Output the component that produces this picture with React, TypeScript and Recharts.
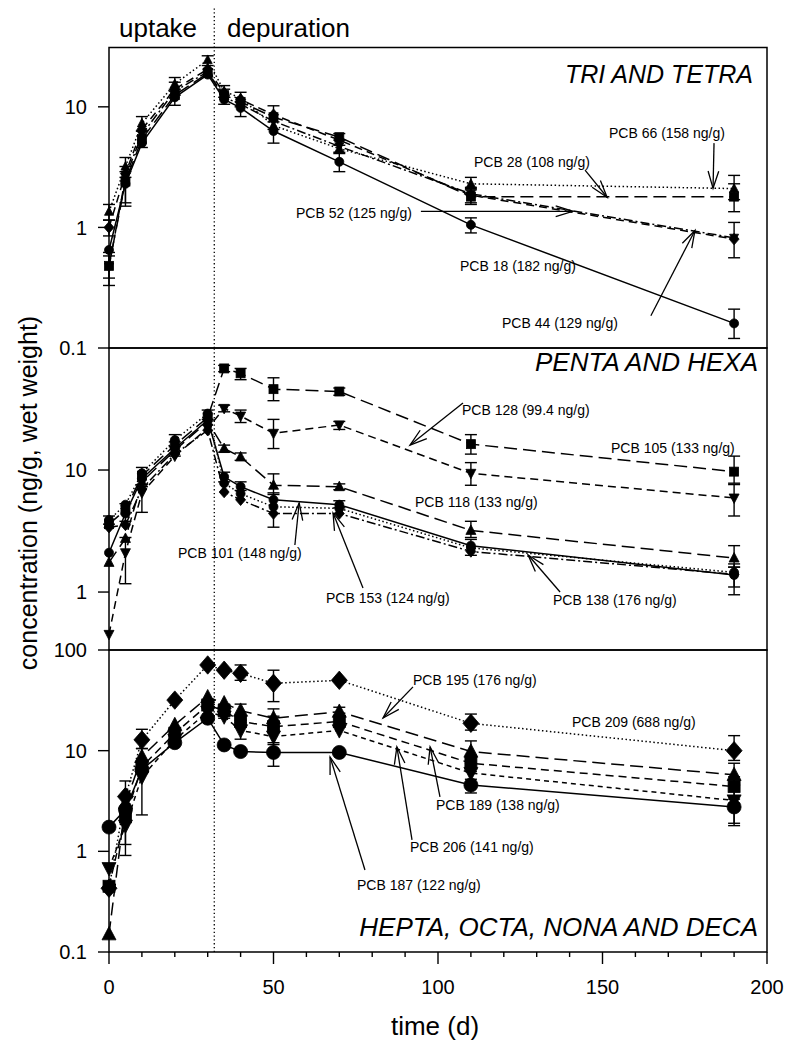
import React from "react";
import {
  LineChart,
  Line,
  XAxis,
  YAxis,
  ErrorBar,
  ReferenceLine,
  ReferenceArea,
} from "recharts";

const FONT = '"Liberation Sans", Arial, Helvetica, sans-serif';

// sampling days
const times = [0, 5, 10, 20, 30, 35, 40, 50, 70, 110, 190];
const xTicks = [0, 10, 20, 30, 40, 50, 60, 70, 80, 90, 100, 110, 120, 130, 140, 150, 160, 170, 180, 190, 200];
const phaseBreak = 32;

type Range = [number, number] | null;

// TRI AND TETRA (ng/g wet weight), error bars as [low, high]
const pcb18 = [0.65, 2.3, 5.0, 12.0, 18.5, 11.5, 9.8, 6.3, 3.5, 1.05, 0.16];
const pcb18Err: Range[] = [null, [1.6, 2.9], null, [10.3, 13.5], null, null, [8.3, 11], [5.0, 7.5], [2.9, 4.1], [0.9, 1.2], [0.12, 0.21]];
const pcb28 = [0.48, 2.4, 5.4, 12.5, 19.0, 12.5, 11.0, 8.2, 5.6, 1.8, 1.8];
const pcb28Err: Range[] = [[0.33, 0.62], [1.5, 3.2], [4.6, 6.3], null, null, [10.5, 14], null, null, null, [1.55, 2.1], [1.35, 2.3]];
const pcb44 = [0.47, 2.6, 5.9, 13.5, 19.5, 12.0, 10.5, 7.6, 4.7, 1.9, 0.82];
const pcb44Err: Range[] = [[0.38, 0.58], null, null, null, null, null, null, null, [4.2, 5.3], [1.6, 2.15], [0.56, 1.1]];
const pcb52 = [1.0, 2.8, 6.5, 14.0, 20.5, 13.0, 11.5, 8.6, 5.3, 1.85, 0.8];
const pcb52Err: Range[] = [[0.85, 1.15], null, null, [12.5, 16], null, null, [10, 13.2], [6.5, 10.2], [4.8, 6.0], null, null];
const pcb66 = [1.35, 3.2, 7.3, 15.5, 24.5, 13.5, 11.8, 7.0, 4.5, 2.3, 2.1];
const pcb66Err: Range[] = [[1.15, 1.55], [2.6, 3.8], [6.3, 8.3], [14, 17.5], [22, 26.5], [12, 15], null, null, null, [2.05, 2.6], [1.7, 2.7]];

// PENTA AND HEXA
const pcb101 = [3.9, 5.2, 9.4, 17.6, 29, 7.8, 6.4, 5.0, 4.85, 2.3, 1.45];
const pcb101Err: Range[] = [[3.6, 4.2], null, null, [15.5, 19.5], [26, 31], null, null, null, null, null, null];
const pcb105 = [3.6, 4.7, 9.0, 16.0, 27, 68, 62, 46, 44, 16.3, 9.7];
const pcb105Err: Range[] = [null, null, null, null, null, [64, 72], [55, 68], [37, 57], [41, 47], [13.5, 19.5], [7.8, 13]];
const pcb118 = [1.75, 2.75, 8.0, 14.5, 25, 15, 12.8, 7.5, 7.3, 3.2, 1.9];
const pcb118Err: Range[] = [null, null, null, null, null, [14, 16], [12, 13.8], [6.3, 9.3], [6.9, 7.7], [2.8, 3.8], [1.6, 2.4]];
const pcb128 = [0.45, 2.1, 6.5, 13, 22, 32, 27.7, 20, 23.4, 9.4, 5.9];
const pcb128Err: Range[] = [null, [1.17, 2.8], [4.5, 7.3], null, null, [30, 34], [24.5, 31], [15, 26], [21.5, 25], [7.5, 11.5], [4.2, 7.6]];
const pcb138 = [3.4, 3.55, 7.0, 13.5, 21.2, 6.6, 5.7, 4.4, 4.4, 2.15, 1.4];
const pcb138Err: Range[] = [null, null, null, null, null, null, null, null, null, null, [1.1, 1.7]];
const pcb153 = [2.1, 4.4, 8.5, 15, 25.7, 8.8, 7.3, 5.7, 5.2, 2.4, 1.38];
const pcb153Err: Range[] = [null, [3.8, 5.3], [7.6, 10.5], [13, 17], null, [8, 9.6], [6.8, 8.0], [3.4, 6.5], [4.9, 5.6], [2.0, 2.7], [0.95, 1.6]];

// HEPTA, OCTA, NONA AND DECA
const pcb187 = [1.74, 2.6, 6.5, 12, 21, 11.4, 9.8, 9.6, 9.6, 4.56, 2.76];
const pcb187Err: Range[] = [null, null, null, null, null, null, null, [7, 11.5], null, [3.8, 5.2], [1.8, 3.3]];
const pcb189 = [0.45, 2.2, 6.9, 14.9, 28.4, 25, 19.5, 17.3, 19.5, 7.5, 4.4];
const pcb189Err: Range[] = [null, [1.17, 2.8], null, null, null, [21, 29], null, [12, 22], null, [6.2, 9.0], [3.0, 5.5]];
const pcb195 = [0.15, 3.0, 8.7, 18, 34, 29.6, 25, 21, 24.4, 9.8, 5.75];
const pcb195Err: Range[] = [null, [2.4, 5.0], [7, 10.5], null, null, null, [20, 29], [16, 26], [22, 27], [8.5, 12.5], [4.6, 7.5]];
const pcb206 = [0.68, 1.8, 5.5, 12.8, 24.4, 21.8, 15.9, 13.8, 15.9, 6.0, 3.2];
const pcb206Err: Range[] = [null, [0.91, 2.4], [2.3, 8.0], null, null, null, [13, 19], [9.5, 17], null, [4.6, 7.5], [1.9, 4.5]];
const pcb209 = [0.43, 3.5, 12.8, 31.8, 71, 63, 58.6, 46.7, 50, 18.7, 10];
const pcb209Err: Range[] = [null, null, [10.5, 16.3], null, null, null, [50, 71], [30.7, 63], null, [16, 23.1], [8, 14.1]];

const DOTTED = "1.5 2.5";
const LONG = "13 6";
const MED = "8 5";
const SHORT = "5 4";
const DASHDOT = "9 3 2 3";

type Shape = "circle" | "square" | "diamond" | "up" | "down";
interface Series {
  key: string;
  values: number[];
  errors: Range[];
  dash?: string;
  shape: Shape;
  size: number;
}
interface Arrow {
  from: [number, number];
  to: [number, number];
}

const topSeries: Series[] = [
  { key: "p18", values: pcb18, errors: pcb18Err, shape: "circle", size: 9 },
  { key: "p28", values: pcb28, errors: pcb28Err, dash: LONG, shape: "square", size: 9 },
  { key: "p44", values: pcb44, errors: pcb44Err, dash: DASHDOT, shape: "down", size: 9 },
  { key: "p52", values: pcb52, errors: pcb52Err, dash: MED, shape: "diamond", size: 10 },
  { key: "p66", values: pcb66, errors: pcb66Err, dash: DOTTED, shape: "up", size: 9 },
];
const midSeries: Series[] = [
  { key: "p101", values: pcb101, errors: pcb101Err, dash: DOTTED, shape: "circle", size: 9 },
  { key: "p105", values: pcb105, errors: pcb105Err, dash: LONG, shape: "square", size: 9 },
  { key: "p118", values: pcb118, errors: pcb118Err, dash: LONG, shape: "up", size: 10 },
  { key: "p128", values: pcb128, errors: pcb128Err, dash: MED, shape: "down", size: 10 },
  { key: "p138", values: pcb138, errors: pcb138Err, dash: DASHDOT, shape: "diamond", size: 10 },
  { key: "p153", values: pcb153, errors: pcb153Err, shape: "circle", size: 9 },
];
const botSeries: Series[] = [
  { key: "p187", values: pcb187, errors: pcb187Err, shape: "circle", size: 14 },
  { key: "p189", values: pcb189, errors: pcb189Err, dash: MED, shape: "square", size: 12 },
  { key: "p195", values: pcb195, errors: pcb195Err, dash: LONG, shape: "up", size: 14 },
  { key: "p206", values: pcb206, errors: pcb206Err, dash: SHORT, shape: "down", size: 14 },
  { key: "p209", values: pcb209, errors: pcb209Err, dash: DOTTED, shape: "diamond", size: 16 },
];

// annotation arrows, tail -> tip, in data units (day, ng/g)
const topArrows: Arrow[] = [
  { from: [183.9, 5.0], to: [183.6, 2.11] },
  { from: [144.7, 2.99], to: [151.4, 1.78] },
  { from: [94.8, 1.36], to: [141, 1.36] },
  { from: [164.7, 0.185], to: [178.1, 0.944] },
];
const midArrows: Arrow[] = [
  { from: [107.6, 35.4], to: [91.5, 16.0] },
  { from: [56.5, 2.43], to: [57.8, 5.37] },
  { from: [77.2, 1.08], to: [68.1, 4.45] },
  { from: [137.1, 1.0], to: [127.4, 2.01] },
];
const botArrows: Arrow[] = [
  { from: [92.4, 43], to: [83.3, 21.1] },
  { from: [100.6, 3.47], to: [97.6, 10.9] },
  { from: [92.1, 1.3], to: [87.5, 10.9] },
  { from: [77.8, 0.653], to: [67.2, 8.65] },
];

function buildRows(series: Series[]) {
  return times.map((t, i) => {
    const row: Record<string, any> = { t };
    series.forEach((s) => {
      const v = s.values[i];
      row[s.key] = v;
      const r = s.errors[i];
      if (r) row[s.key + "_e"] = [v - r[0], r[1] - v];
    });
    return row;
  });
}

function makeDot(shape: Shape, size: number) {
  return (p: any) => {
    const { cx, cy, index } = p;
    if (cx == null || cy == null) return <g key={index} />;
    const h = size / 2;
    let el: React.ReactNode;
    if (shape === "circle") el = <circle cx={cx} cy={cy} r={h} />;
    else if (shape === "square") el = <rect x={cx - h} y={cy - h} width={size} height={size} />;
    else if (shape === "diamond")
      el = <polygon points={`${cx},${cy - h * 1.15} ${cx + h},${cy} ${cx},${cy + h * 1.15} ${cx - h},${cy}`} />;
    else if (shape === "up")
      el = <polygon points={`${cx},${cy - h * 1.1} ${cx + h},${cy + h * 0.8} ${cx - h},${cy + h * 0.8}`} />;
    else el = <polygon points={`${cx},${cy + h * 1.1} ${cx + h},${cy - h * 0.8} ${cx - h},${cy - h * 0.8}`} />;
    return (
      <g key={index} fill="#000" stroke="#000" strokeWidth={0.8}>
        {el}
      </g>
    );
  };
}

function renderArrow(p: any) {
  const { x1, y1, x2, y2 } = p;
  if ([x1, y1, x2, y2].some((v) => v == null || Number.isNaN(v))) return <g />;
  const ang = Math.atan2(y2 - y1, x2 - x1);
  const len = 18;
  const spread = 0.3;
  const ax = x2 - len * Math.cos(ang - spread);
  const ay = y2 - len * Math.sin(ang - spread);
  const bx = x2 - len * Math.cos(ang + spread);
  const by = y2 - len * Math.sin(ang + spread);
  return (
    <g stroke="#000" strokeWidth={1.3} fill="none">
      <line x1={x1} y1={y1} x2={x2} y2={y2} />
      <path d={`M${ax},${ay} L${x2},${y2} L${bx},${by}`} />
    </g>
  );
}

function XTick(p: any) {
  const { x, y, payload } = p;
  const v = payload.value;
  const major = v % 50 === 0;
  return (
    <g>
      <line x1={x} x2={x} y1={y} y2={y + (major ? 12 : 5)} stroke="#000" strokeWidth={1.4} />
      {major && (
        <text x={x} y={y + 42} textAnchor="middle" fontSize={20} fontFamily={FONT} fill="#000">
          {v}
        </text>
      )}
    </g>
  );
}

interface PanelProps {
  top: number;
  height: number;
  marginTop: number;
  marginBottom: number;
  domain: [number, number];
  frameTop: number;
  yTicks: number[];
  series: Series[];
  arrows: Arrow[];
  showX?: boolean;
}

function Panel({ top, height, marginTop, marginBottom, domain, frameTop, yTicks, series, arrows, showX }: PanelProps) {
  const rows = buildRows(series);
  return (
    <div style={{ position: "absolute", left: 0, top }}>
      <LineChart width={786} height={height} data={rows} margin={{ top: marginTop, right: 19, bottom: marginBottom, left: 0 }}>
        <XAxis
          type="number"
          dataKey="t"
          domain={[0, 200]}
          ticks={xTicks}
          interval={0}
          hide={!showX}
          height={50}
          axisLine={false}
          tickLine={false}
          tickSize={0}
          tickMargin={0}
          tick={<XTick />}
        />
        <YAxis
          type="number"
          scale="log"
          domain={domain}
          allowDataOverflow
          ticks={yTicks}
          interval={0}
          width={109}
          axisLine={false}
          tickSize={11}
          tickMargin={11}
          tickLine={{ stroke: "#000", strokeWidth: 1.4 }}
          tick={{ fill: "#000", fontSize: 20, fontFamily: FONT }}
        />
        <ReferenceArea x1={0} x2={200} y1={domain[0]} y2={frameTop} fill="none" stroke="#000" strokeWidth={1.5} ifOverflow="visible" />
        <ReferenceLine x={phaseBreak} stroke="#000" strokeWidth={1.3} strokeDasharray="1.3 2.5" />
        {series.map((s) => (
          <Line
            key={s.key}
            dataKey={s.key}
            type="linear"
            stroke="#000"
            strokeWidth={1.5}
            strokeDasharray={s.dash}
            dot={makeDot(s.shape, s.size)}
            activeDot={false}
            isAnimationActive={false}
          >
            <ErrorBar dataKey={s.key + "_e"} direction="y" width={6} stroke="#000" strokeWidth={1.4} />
          </Line>
        ))}
        {arrows.map((a, i) => (
          <ReferenceLine
            key={i}
            segment={[
              { x: a.from[0], y: a.from[1] },
              { x: a.to[0], y: a.to[1] },
            ]}
            ifOverflow="visible"
            shape={renderArrow}
          />
        ))}
      </LineChart>
    </div>
  );
}

const labelStyle: React.CSSProperties = {
  position: "absolute",
  whiteSpace: "nowrap",
  lineHeight: 1,
  transform: "translateY(-50%)",
  color: "#000",
};

function Txt({ x, y, size = 14, italic, right, children }: { x: number; y: number; size?: number; italic?: boolean; right?: boolean; children: React.ReactNode }) {
  return (
    <div
      style={{
        ...labelStyle,
        left: x,
        top: y,
        fontSize: size,
        fontStyle: italic ? "italic" : "normal",
        transform: right ? "translate(-100%, -50%)" : "translateY(-50%)",
      }}
    >
      {children}
    </div>
  );
}

export default function App() {
  return (
    <div style={{ position: "absolute", left: 0, top: 0, width: 786, height: 1041, background: "#fff", fontFamily: FONT, overflow: "hidden" }}>
      <Panel top={0} height={360} marginTop={8} marginBottom={12} domain={[0.1, 66]} frameTop={31} yTicks={[0.1, 1, 10]} series={topSeries} arrows={topArrows} />
      <Panel top={340} height={320} marginTop={8} marginBottom={10} domain={[0.335, 100]} frameTop={100} yTicks={[1, 10]} series={midSeries} arrows={midArrows} />
      <Panel top={640} height={401} marginTop={10} marginBottom={39} domain={[0.1, 100]} frameTop={100} yTicks={[0.1, 1, 10, 100]} series={botSeries} arrows={botArrows} showX />

      <Txt x={119} y={28} size={26}>uptake</Txt>
      <Txt x={227} y={28} size={26}>depuration</Txt>

      <Txt x={753} y={74} size={25} italic right>TRI AND TETRA</Txt>
      <Txt x={609} y={133}>PCB 66 (158 ng/g)</Txt>
      <Txt x={474} y={162}>PCB 28 (108 ng/g)</Txt>
      <Txt x={296} y={213}>PCB 52 (125 ng/g)</Txt>
      <Txt x={460} y={266}>PCB 18 (182 ng/g)</Txt>
      <Txt x={502} y={323}>PCB 44 (129 ng/g)</Txt>

      <Txt x={758} y={362} size={26} italic right>PENTA AND HEXA</Txt>
      <Txt x={462} y={410}>PCB 128 (99.4 ng/g)</Txt>
      <Txt x={611} y={448}>PCB 105 (133 ng/g)</Txt>
      <Txt x={415} y={502}>PCB 118 (133 ng/g)</Txt>
      <Txt x={178} y={553}>PCB 101 (148 ng/g)</Txt>
      <Txt x={326} y={598}>PCB 153 (124 ng/g)</Txt>
      <Txt x={553} y={600}>PCB 138 (176 ng/g)</Txt>

      <Txt x={413} y={680}>PCB 195 (176 ng/g)</Txt>
      <Txt x={572} y={722}>PCB 209 (688 ng/g)</Txt>
      <Txt x={436} y={805}>PCB 189 (138 ng/g)</Txt>
      <Txt x={410} y={847}>PCB 206 (141 ng/g)</Txt>
      <Txt x={357} y={885}>PCB 187 (122 ng/g)</Txt>
      <Txt x={758} y={927} size={26} italic right>HEPTA, OCTA, NONA AND DECA</Txt>

      <div style={{ ...labelStyle, left: 435, top: 1026, fontSize: 26, transform: "translate(-50%, -50%)" }}>time (d)</div>
      <div
        style={{
          ...labelStyle,
          left: 28,
          top: 493,
          fontSize: 25,
          transform: "translate(-50%, -50%) rotate(-90deg)",
        }}
      >
        concentration (ng/g, wet weight)
      </div>
    </div>
  );
}
